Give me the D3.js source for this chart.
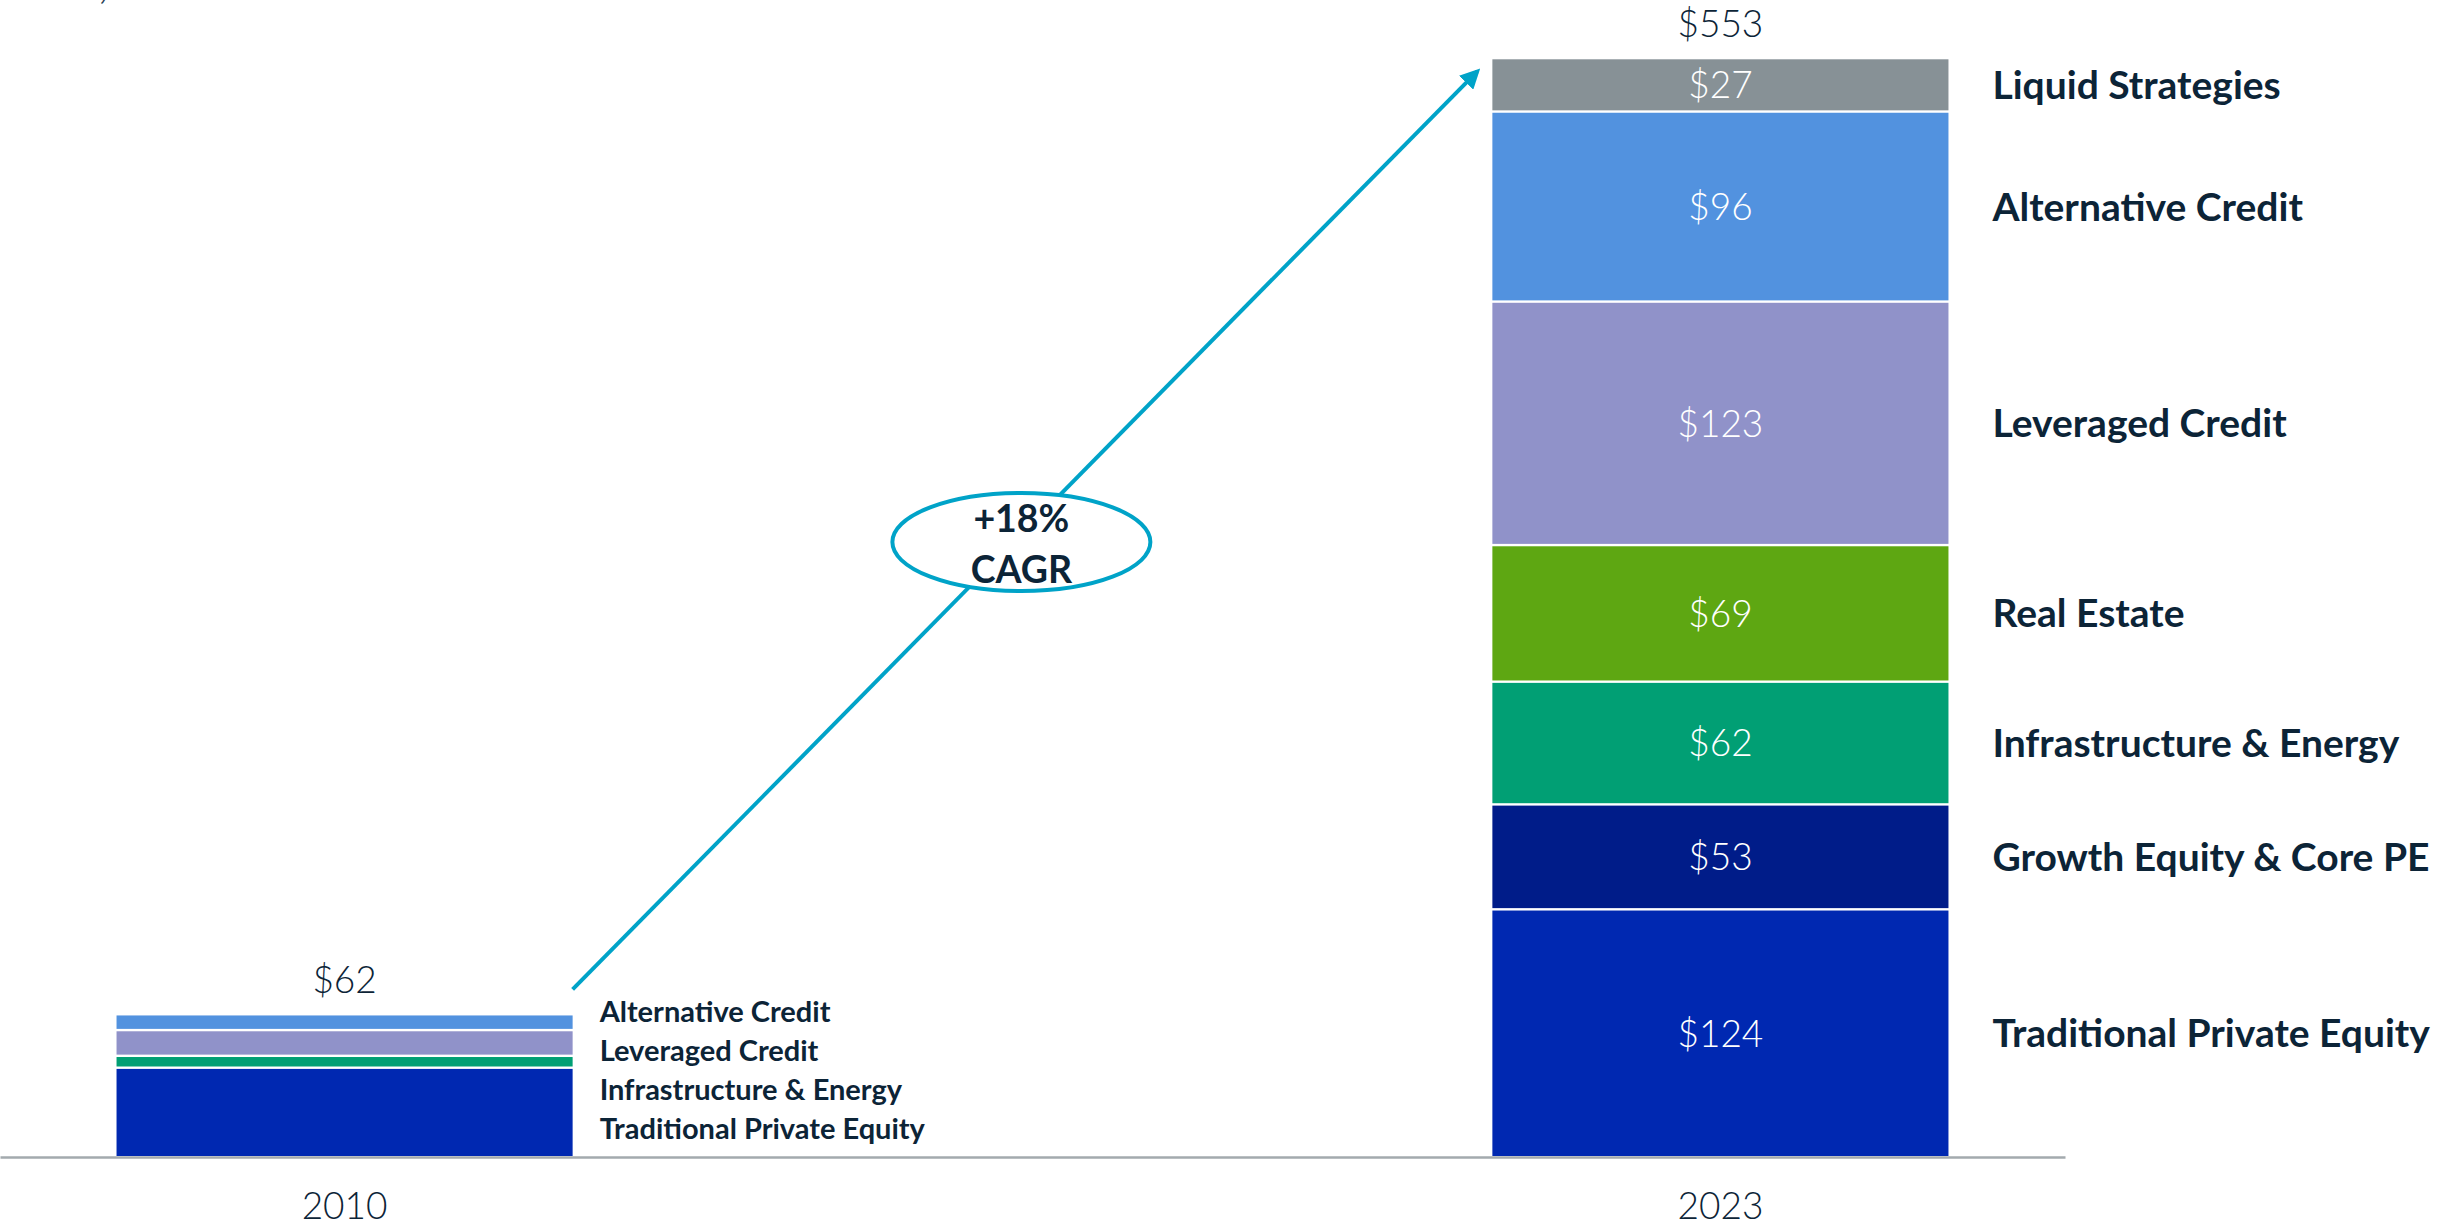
<!DOCTYPE html>
<html>
<head>
<meta charset="utf-8">
<script src="https://cdn.jsdelivr.net/npm/d3@7"></script>
<style>
  html, body { margin: 0; padding: 0; background: #ffffff; }
  svg { display: block; }
  text { font-family: Lato, "Open Sans", "Noto Sans", sans-serif; }
</style>
</head>
<body>
<svg id="chart" width="2438" height="1228"></svg>
<script>
// ---- Data ----
const categories = ["2010", "2023"];
const series = [
  "Traditional Private Equity",
  "Growth Equity & Core PE",
  "Infrastructure & Energy",
  "Real Estate",
  "Leveraged Credit",
  "Alternative Credit",
  "Liquid Strategies"
];
const values2010 = [44, 0, 6, 0, 13, 8, 0];
const values2023 = [124, 53, 62, 69, 123, 96, 27];
const totals = [62, 553];
const cagrLabel = ["+18%", "CAGR"];
const colors = ["#0028b1", "#001c89", "#019f74", "#5ea712", "#9092c9", "#5292df", "#879196"];

// ---- Setup ----
const W = 2438, H = 1228;
const svg = d3.select("#chart");
const ink = "#0c2437";
const accent = "#00a3c8";

const rows = categories.map((c, i) => {
  const vals = i === 0 ? values2010 : values2023;
  const r = { category: c };
  series.forEach((s, j) => r[s] = vals[j]);
  return r;
});

const stack = d3.stack().keys(series)(rows);
const maxSum = d3.max(rows, r => d3.sum(series, s => r[s]));

const x = d3.scaleBand()
  .domain(categories)
  .range([0, 2065])
  .paddingInner(0.6685)
  .paddingOuter(0.0847);

const y = d3.scaleLinear()
  .domain([0, maxSum])
  .range([1156, 59.3]);

const color = d3.scaleOrdinal().domain(series).range(colors);
const gap = 2.4;

// ---- Bars ----
const layers = svg.append("g").selectAll("g")
  .data(stack)
  .join("g")
  .attr("fill", d => color(d.key));

layers.selectAll("rect")
  .data(d => d.map(p => Object.assign(p, { key: d.key })))
  .join("rect")
  .filter(d => d[1] - d[0] > 0)
  .attr("x", d => x(d.data.category))
  .attr("width", x.bandwidth())
  .attr("y", d => y(d[1]))
  .attr("height", d => y(d[0]) - y(d[1]) - (d[0] > 0 ? gap : 0));

// ---- Axis ----
const axis = svg.append("g")
  .attr("transform", `translate(0,${y(0) + 1})`)
  .call(d3.axisBottom(x).tickSize(0).tickSizeOuter(0).tickPadding(36));
axis.select(".domain").attr("stroke", "#a3aaae").attr("stroke-width", 2.5);
axis.selectAll("text")
  .attr("font-family", "Lato, 'Open Sans', sans-serif")
  .attr("font-size", 37)
  .attr("font-weight", 300)
  .attr("fill", ink);

// ---- Totals ----
const stackTop = c => y(d3.sum(series, s => rows[categories.indexOf(c)][s]));
svg.append("g").selectAll("text")
  .data(categories)
  .join("text")
  .attr("x", c => x(c) + x.bandwidth() / 2)
  .attr("y", c => stackTop(c) - 22)
  .attr("text-anchor", "middle")
  .attr("font-size", 37)
  .attr("font-weight", 300)
  .attr("fill", ink)
  .text((c, i) => "$" + totals[i]);

// ---- 2023 segment values and labels ----
const seg2023 = stack.map(layer => ({ key: layer.key, p: layer[1] }))
  .filter(d => d.p[1] - d.p[0] > 0);
const segMid = d => (y(d.p[1]) + y(d.p[0]) - (d.p[0] > 0 ? gap : 0)) / 2;

svg.append("g").selectAll("text")
  .data(seg2023)
  .join("text")
  .attr("x", x("2023") + x.bandwidth() / 2)
  .attr("y", segMid)
  .attr("dy", "0.36em")
  .attr("text-anchor", "middle")
  .attr("font-size", 37)
  .attr("font-weight", 300)
  .attr("fill", "#ffffff")
  .text(d => "$" + (d.p[1] - d.p[0]));

svg.append("g").selectAll("text")
  .data(seg2023)
  .join("text")
  .attr("x", x("2023") + x.bandwidth() + 44)
  .attr("y", segMid)
  .attr("dy", "0.36em")
  .attr("font-size", 39)
  .attr("font-weight", 700)
  .attr("fill", ink)
  .text(d => d.key);

// ---- 2010 legend-style labels ----
const seg2010 = stack.map(layer => ({ key: layer.key, p: layer[0] }))
  .filter(d => d.p[1] - d.p[0] > 0)
  .reverse();
const n10 = seg2010.length;
svg.append("g").selectAll("text")
  .data(seg2010)
  .join("text")
  .attr("x", x("2010") + x.bandwidth() + 27)
  .attr("y", (d, i) => y(0) - 17 - (n10 - 1 - i) * 39)
  .attr("font-size", 29)
  .attr("font-weight", 700)
  .attr("fill", ink)
  .text(d => d.key);

// ---- CAGR arrow ----
const defs = svg.append("defs");
defs.append("marker")
  .attr("id", "arrowhead")
  .attr("viewBox", "0 0 10 10")
  .attr("refX", 8)
  .attr("refY", 5)
  .attr("markerWidth", 5)
  .attr("markerHeight", 5)
  .attr("markerUnits", "strokeWidth")
  .attr("orient", "auto")
  .append("path")
  .attr("d", "M0,0 L10,5 L0,10 z")
  .attr("fill", accent);

const x0 = x("2010") + x.bandwidth();
const y0 = stackTop("2010") - 26;
const x1 = x("2023") - 15;
const y1 = stackTop("2023") + 12;

svg.append("line")
  .attr("x1", x0).attr("y1", y0)
  .attr("x2", x1).attr("y2", y1)
  .attr("stroke", accent)
  .attr("stroke-width", 4)
  .attr("marker-end", "url(#arrowhead)");

const ex = x0 + (x1 - x0) * 0.496;
const ey = y0 + (y1 - y0) * 0.496 + 8;
svg.append("ellipse")
  .attr("cx", ex).attr("cy", ey)
  .attr("rx", 129).attr("ry", 49)
  .attr("fill", "#ffffff")
  .attr("stroke", accent)
  .attr("stroke-width", 4);

svg.append("g").selectAll("text")
  .data(cagrLabel)
  .join("text")
  .attr("x", ex)
  .attr("y", (d, i) => ey - 10 + i * 51)
  .attr("text-anchor", "middle")
  .attr("font-size", 37.5)
  .attr("font-weight", 700)
  .attr("fill", ink)
  .text(d => d);

// fragment of cut-off text at top-left
svg.append("text")
  .attr("x", 99).attr("y", -1)
  .attr("font-size", 37)
  .attr("fill", "#2c4256")
  .text(",");
</script>
</body>
</html>
